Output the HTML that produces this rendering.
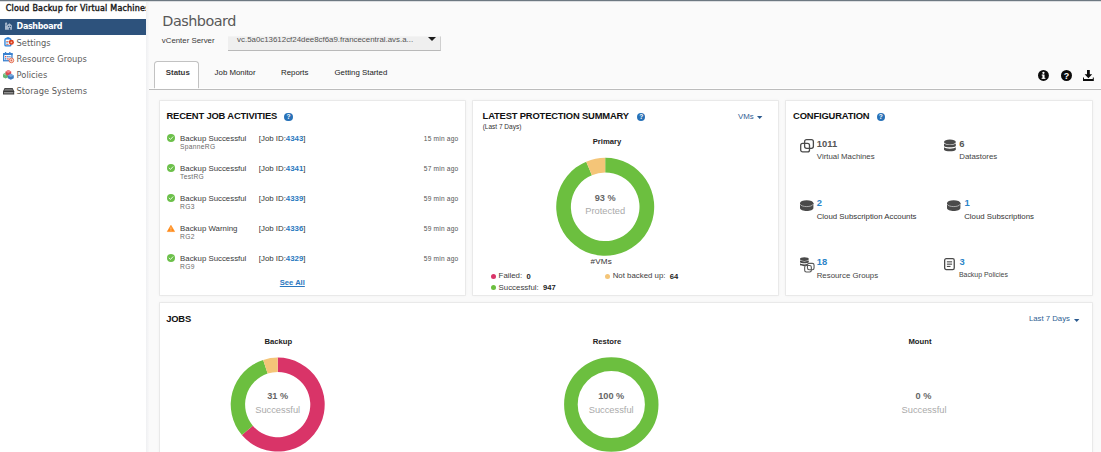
<!DOCTYPE html>
<html lang="en">
<head>
<meta charset="utf-8">
<title>Cloud Backup for Virtual Machines</title>
<style>
*{box-sizing:border-box;margin:0;padding:0}
html,body{width:1101px;height:452px;overflow:hidden;background:#fafafa}
body{position:relative;font-family:"Liberation Sans",Arial,sans-serif;font-size:7.85px;color:#3c3c3c}
.t,.a{position:absolute;white-space:nowrap}
.vd{font-family:"DejaVu Sans","Liberation Sans",sans-serif}
.b{font-weight:bold}
.blue{color:#2b78c0}
.g{color:#666}
#topline{left:0;top:0;width:1101px;height:1px;background:#6d7881;box-shadow:0 0.5px 0 #b9bec3}
#side{left:0;top:1px;width:146px;height:451px;background:#fff}
#topwhite{left:146px;top:1px;width:955px;height:1.2px;background:#fff}
#sidegrad{left:146px;top:2px;width:3px;height:450px;background:linear-gradient(90deg,#eff0f2,#f8f8f9)}
#lower{left:149px;top:89px;width:952px;height:363px;background:#fafafa}
#msel{left:0;top:19px;width:146px;height:16px;background:#2d527c}
#vcsel{left:227.5px;top:36px;width:213px;height:14.8px;background:#efefef;border-bottom:1px solid #b9b9b9;border-right:1px solid #cfcfcf;border-top:1px solid #f3f3f3}
#vcarrow{left:428.3px;top:37px;width:0;height:0;border-left:4.5px solid transparent;border-right:4.5px solid transparent;border-top:4.4px solid #1c1c1c}
#tabline{left:149px;top:89px;width:952px;height:1px;background:#bcbcbc;box-shadow:0 -1px 0 rgba(255,255,255,.8)}
#tab1{left:154px;top:61px;width:45.2px;height:28px;border:1px solid #c2c2c2;border-bottom:none;border-radius:3.5px 3.5px 0 0;background:#fff}
.card{background:#fff;box-shadow:0 0 0 1px rgba(0,0,0,.045),0 0 3px 1.2px rgba(0,0,0,.06)}
.help{width:8.4px;height:8.4px;border-radius:50%;background:#2872b8;color:#fff;font-size:6.6px;font-weight:bold;line-height:8.6px;text-align:center}
.dot{width:5.2px;height:5.2px;border-radius:50%}
svg{position:absolute;overflow:visible}
</style>
</head>
<body>
<div class="a" id="lower"></div>
<div class="a" id="side"></div>
<div class="a" id="sidegrad"></div>
<div class="a" id="topwhite"></div><div class="a" id="topline"></div>
<div class="a" style="left:0;top:2px;width:146px;height:16px;overflow:hidden"><div class="t  vd" style="left:5.8px;top:2.13px;font-size:8px;line-height:10px;color:#1d1d1d;-webkit-text-stroke:0.4px #1d1d1d;letter-spacing:0.2px">Cloud Backup for Virtual Machines</div>
</div>
<div class="a" id="msel"></div>
<div class="t b vd" style="left:16.6px;top:22.23px;font-size:8px;line-height:10px;color:#fff;letter-spacing:-0.35px">Dashboard</div>
<div class="t  vd" style="left:16.6px;top:37.83px;font-size:8.3px;line-height:11px;color:#5c5c5c">Settings</div>
<div class="t  vd" style="left:16.6px;top:54.13px;font-size:8.3px;line-height:11px;color:#5c5c5c">Resource Groups</div>
<div class="t  vd" style="left:16.6px;top:70.43px;font-size:8.3px;line-height:11px;color:#5c5c5c">Policies</div>
<div class="t  vd" style="left:16.6px;top:86.43px;font-size:8.3px;line-height:11px;color:#5c5c5c">Storage Systems</div>
<div class="t  vd" style="left:162.3px;top:11.92px;font-size:14.4px;line-height:19px;color:#585858;letter-spacing:-0.5px">Dashboard</div>
<div class="t" style="left:161.8px;top:36.08px;font-size:7.85px;line-height:10px;color:#3a3a3a">vCenter Server</div>
<div class="a" id="vcsel"></div><div class="a" id="vcarrow"></div>
<div class="t" style="left:237.1px;top:35.17px;font-size:7.88px;line-height:10px;color:#555">vc.5a0c13612cf24dee8cf6a9.francecentral.avs.a...</div>
<div class="a" id="tab1"></div><div class="a" id="tabline"></div>
<div class="t b" style="left:165.8px;top:68.08px;font-size:7.85px;line-height:10px;color:#383838">Status</div>
<div class="t" style="left:214.6px;top:68.08px;font-size:7.85px;line-height:10px;color:#222">Job Monitor</div>
<div class="t" style="left:281px;top:68.08px;font-size:7.85px;line-height:10px;color:#222">Reports</div>
<div class="t" style="left:334.5px;top:68.08px;font-size:7.85px;line-height:10px;color:#222">Getting Started</div>
<div class="a card" style="left:159.5px;top:100.5px;width:305.5px;height:194.5px"></div>
<div class="a card" style="left:472.5px;top:100.5px;width:305.5px;height:194.5px"></div>
<div class="a card" style="left:786px;top:100.5px;width:305.5px;height:194.5px"></div>
<div class="a card" style="left:159.5px;top:303px;width:932px;height:160px"></div>
<div class="t b" style="left:166.5px;top:110.45px;font-size:9.4px;line-height:12px;color:#111;letter-spacing:-0.17px">RECENT JOB ACTIVITIES</div>
<div class="a help" style="left:284.40000000000003px;top:112.5px">?</div>
<div class="t b" style="left:482.6px;top:110.45px;font-size:9.4px;line-height:12px;color:#111;letter-spacing:-0.17px">LATEST PROTECTION SUMMARY</div>
<div class="a help" style="left:637.0px;top:112.7px">?</div>
<div class="t b" style="left:793.1px;top:110.45px;font-size:9.4px;line-height:12px;color:#111;letter-spacing:-0.17px">CONFIGURATION</div>
<div class="a help" style="left:876.6999999999999px;top:112.5px">?</div>
<div class="t b" style="left:166.2px;top:312.55px;font-size:9.4px;line-height:12px;color:#111;letter-spacing:-0.17px">JOBS</div>
<svg style="left:167px;top:133.8px" width="8" height="8" viewBox="0 0 8 8"><circle cx="4" cy="4" r="4" fill="#6cc04a"/><path d="M2.1 4.1 L3.5 5.4 L5.9 2.8" fill="none" stroke="#fff" stroke-width="0.9" stroke-opacity=".92" stroke-linecap="round" stroke-linejoin="round"/></svg>
<div class="t" style="left:180.1px;top:134.18px;font-size:7.85px;line-height:10px;color:#3a3a3a">Backup Successful</div>
<div class="t" style="left:180.1px;top:142.08px;font-size:6.7px;line-height:9px;color:#6a6a6a;letter-spacing:0.28px">SpanneRG</div>
<div class="t" style="left:258.8px;top:134.18px;font-size:7.85px;line-height:10px;color:#333">[Job ID:<span class="b blue">4343</span>]</div>
<div class="t" style="right:642.6px;top:133.72px;font-size:6.6px;line-height:9px;color:#555;letter-spacing:0.2px">15 min ago</div>
<svg style="left:167px;top:163.83px" width="8" height="8" viewBox="0 0 8 8"><circle cx="4" cy="4" r="4" fill="#6cc04a"/><path d="M2.1 4.1 L3.5 5.4 L5.9 2.8" fill="none" stroke="#fff" stroke-width="0.9" stroke-opacity=".92" stroke-linecap="round" stroke-linejoin="round"/></svg>
<div class="t" style="left:180.1px;top:164.21px;font-size:7.85px;line-height:10px;color:#3a3a3a">Backup Successful</div>
<div class="t" style="left:180.1px;top:172.11px;font-size:6.7px;line-height:9px;color:#6a6a6a;letter-spacing:0.28px">TestRG</div>
<div class="t" style="left:258.8px;top:164.21px;font-size:7.85px;line-height:10px;color:#333">[Job ID:<span class="b blue">4341</span>]</div>
<div class="t" style="right:642.6px;top:163.75px;font-size:6.6px;line-height:9px;color:#555;letter-spacing:0.2px">57 min ago</div>
<svg style="left:167px;top:193.86px" width="8" height="8" viewBox="0 0 8 8"><circle cx="4" cy="4" r="4" fill="#6cc04a"/><path d="M2.1 4.1 L3.5 5.4 L5.9 2.8" fill="none" stroke="#fff" stroke-width="0.9" stroke-opacity=".92" stroke-linecap="round" stroke-linejoin="round"/></svg>
<div class="t" style="left:180.1px;top:194.24px;font-size:7.85px;line-height:10px;color:#3a3a3a">Backup Successful</div>
<div class="t" style="left:180.1px;top:202.14px;font-size:6.7px;line-height:9px;color:#6a6a6a;letter-spacing:0.28px">RG3</div>
<div class="t" style="left:258.8px;top:194.24px;font-size:7.85px;line-height:10px;color:#333">[Job ID:<span class="b blue">4339</span>]</div>
<div class="t" style="right:642.6px;top:193.78px;font-size:6.6px;line-height:9px;color:#555;letter-spacing:0.2px">59 min ago</div>
<svg style="left:167.3px;top:225.09px" width="7.9" height="6.9" viewBox="0 0 7.9 6.9"><path d="M3.95 0.3 L7.6 6.6 L0.3 6.6 Z" fill="#ff8a17" stroke="#ff8a17" stroke-width="0.6" stroke-linejoin="round"/><rect x="3.6" y="2.3" width="0.7" height="2.3" fill="#fff" opacity=".75"/><rect x="3.6" y="5.1" width="0.7" height="0.7" fill="#fff" opacity=".75"/></svg>
<div class="t" style="left:180.1px;top:224.27px;font-size:7.85px;line-height:10px;color:#3a3a3a">Backup Warning</div>
<div class="t" style="left:180.1px;top:232.17px;font-size:6.7px;line-height:9px;color:#6a6a6a;letter-spacing:0.28px">RG2</div>
<div class="t" style="left:258.8px;top:224.27px;font-size:7.85px;line-height:10px;color:#333">[Job ID:<span class="b blue">4336</span>]</div>
<div class="t" style="right:642.6px;top:223.81px;font-size:6.6px;line-height:9px;color:#555;letter-spacing:0.2px">59 min ago</div>
<svg style="left:167px;top:253.92000000000002px" width="8" height="8" viewBox="0 0 8 8"><circle cx="4" cy="4" r="4" fill="#6cc04a"/><path d="M2.1 4.1 L3.5 5.4 L5.9 2.8" fill="none" stroke="#fff" stroke-width="0.9" stroke-opacity=".92" stroke-linecap="round" stroke-linejoin="round"/></svg>
<div class="t" style="left:180.1px;top:254.30px;font-size:7.85px;line-height:10px;color:#3a3a3a">Backup Successful</div>
<div class="t" style="left:180.1px;top:262.20px;font-size:6.7px;line-height:9px;color:#6a6a6a;letter-spacing:0.28px">RG9</div>
<div class="t" style="left:258.8px;top:254.30px;font-size:7.85px;line-height:10px;color:#333">[Job ID:<span class="b blue">4329</span>]</div>
<div class="t" style="right:642.6px;top:253.84px;font-size:6.6px;line-height:9px;color:#555;letter-spacing:0.2px">59 min ago</div>
<div class="t b blue" style="left:279.8px;top:277.57px;font-size:7.6px;line-height:10px;text-decoration:underline">See All</div>
<div class="t" style="left:482.7px;top:122.55px;font-size:6.5px;line-height:8px;color:#333">(Last 7 Days)</div>
<div class="t" style="left:738px;top:111.98px;font-size:7.85px;line-height:10px;color:#2f5f94">VMs</div>
<svg style="left:757px;top:116px" width="5.4" height="3" viewBox="0 0 5.4 3"><path d="M0 0 H5.4 L2.7 3 Z" fill="#2a5a8f"/></svg>
<div class="t b" style="left:457px;width:300px;text-align:center;top:137.34px;font-size:7.7px;line-height:10px;color:#222">Primary</div>
<svg style="left:0;top:0" width="1101" height="452" viewBox="0 0 1101 452"><path d="M605.20 157.80 A49 49 0 1 1 586.22 161.63 L591.91 175.18 A34.3 34.3 0 1 0 605.20 172.50 Z" fill="#6cbf3f"/><path d="M586.22 161.63 A49 49 0 0 1 605.20 157.80 L605.20 172.50 A34.3 34.3 0 0 0 591.91 175.18 Z" fill="#f4c578"/></svg>
<div class="t b" style="left:455.20000000000005px;width:300px;text-align:center;top:191.62px;font-size:9.2px;line-height:12px;color:#666">93 %</div>
<div class="t" style="left:455.20000000000005px;width:300px;text-align:center;top:205.18px;font-size:9.3px;line-height:12px;color:#aaa">Protected</div>
<div class="t" style="left:451.20000000000005px;width:300px;text-align:center;top:255.70px;font-size:8.1px;line-height:11px;color:#333;letter-spacing:0.2px">#VMs</div>
<div class="a dot" style="left:491.0px;top:274.0px;background:#d93468"></div>
<div class="t" style="left:498.6px;top:271.48px;font-size:7.85px;line-height:10px;">Failed:</div>
<div class="t b" style="left:526.4px;top:271.57px;font-size:7.6px;line-height:10px;color:#222">0</div>
<div class="a dot" style="left:604.9px;top:274.0px;background:#f4c578"></div>
<div class="t" style="left:612.7px;top:271.48px;font-size:7.85px;line-height:10px;">Not backed up:</div>
<div class="t b" style="left:669.8px;top:271.57px;font-size:7.6px;line-height:10px;color:#222">64</div>
<div class="a dot" style="left:491.0px;top:285.2px;background:#6cbf3f"></div>
<div class="t" style="left:498.6px;top:282.68px;font-size:7.85px;line-height:10px;">Successful:</div>
<div class="t b" style="left:543.1px;top:282.77px;font-size:7.6px;line-height:10px;color:#222">947</div>
<div class="t" style="left:1028.9px;top:314.11px;font-size:7.78px;line-height:10px;color:#2f5f94">Last 7 Days</div>
<svg style="left:1073.8px;top:318.8px" width="5.4" height="3" viewBox="0 0 5.4 3"><path d="M0 0 H5.4 L2.7 3 Z" fill="#2a5a8f"/></svg>
<div class="t b" style="left:128.3px;width:300px;text-align:center;top:337.04px;font-size:7.7px;line-height:10px;color:#222">Backup</div>
<svg style="left:0;top:0" width="1101" height="452" viewBox="0 0 1101 452"><path d="M277.70 357.60 A47 47 0 1 1 241.87 435.01 L252.84 425.69 A32.6 32.6 0 1 0 277.70 372.00 Z" fill="#d93468"/><path d="M241.87 435.01 A47 47 0 0 1 263.18 359.90 L267.63 373.60 A32.6 32.6 0 0 0 252.84 425.69 Z" fill="#6cbf3f"/><path d="M263.18 359.90 A47 47 0 0 1 277.70 357.60 L277.70 372.00 A32.6 32.6 0 0 0 267.63 373.60 Z" fill="#f4c578"/></svg>
<div class="t b" style="left:127.69999999999999px;width:300px;text-align:center;top:390.22px;font-size:9.2px;line-height:12px;color:#666">31 %</div>
<div class="t" style="left:127.69999999999999px;width:300px;text-align:center;top:403.58px;font-size:9.3px;line-height:12px;color:#aaa">Successful</div>
<div class="t b" style="left:457px;width:300px;text-align:center;top:337.04px;font-size:7.7px;line-height:10px;color:#222">Restore</div>
<svg style="left:0;top:0" width="1101" height="452" viewBox="0 0 1101 452"><circle cx="611.3" cy="404.5" r="40.400000000000006" fill="none" stroke="#6cbf3f" stroke-width="13.600000000000001"/></svg>
<div class="t b" style="left:461.20000000000005px;width:300px;text-align:center;top:390.22px;font-size:9.2px;line-height:12px;color:#666">100 %</div>
<div class="t" style="left:461.20000000000005px;width:300px;text-align:center;top:403.58px;font-size:9.3px;line-height:12px;color:#aaa">Successful</div>
<div class="t b" style="left:770px;width:300px;text-align:center;top:337.04px;font-size:7.7px;line-height:10px;color:#222">Mount</div>
<div class="t b" style="left:773.5px;width:300px;text-align:center;top:390.22px;font-size:9.2px;line-height:12px;color:#666">0 %</div>
<div class="t" style="left:774px;width:300px;text-align:center;top:403.58px;font-size:9.3px;line-height:12px;color:#aaa">Successful</div>
<svg style="left:800px;top:139.3px" width="14.2" height="13.6" viewBox="0 0 14.2 13.6"><rect x="4.6" y="0.7" width="8.8" height="8.6" rx="2" fill="none" stroke="#4a4a4a" stroke-width="1.3"/><rect x="0.7" y="4.3" width="8.8" height="8.6" rx="2" fill="#fff" fill-opacity="0" stroke="#4a4a4a" stroke-width="1.3"/></svg>
<div class="t b" style="left:816.8px;top:137.55px;font-size:9.4px;line-height:12px;color:#555">1011</div>
<div class="t" style="left:816.8px;top:151.58px;font-size:7.85px;line-height:10px;color:#444">Virtual Machines</div>
<svg style="left:943.8px;top:139.3px" width="11.8" height="13.6" viewBox="0 0 12 13"><ellipse cx="6" cy="2.6" rx="6" ry="2.6" fill="#4a4a4a"/><path d="M0 4.2 C1.2 6 10.8 6 12 4.2 L12 6.6 C10.8 8.6 1.2 8.6 0 6.6 Z" fill="#4a4a4a"/><path d="M0 8 C1.2 9.9 10.8 9.9 12 8 L12 10.4 C10.8 12.5 1.2 12.5 0 10.4 Z" fill="#4a4a4a"/><path d="M0 11.8 C1.2 13.7 10.8 13.7 12 11.8 L12 12.6 C10.8 15.2 1.2 15.2 0 12.6 Z" fill="#4a4a4a" opacity="0"/></svg>
<div class="t b" style="left:959.3px;top:137.55px;font-size:9.4px;line-height:12px;color:#555">6</div>
<div class="t" style="left:959.3px;top:151.58px;font-size:7.85px;line-height:10px;color:#444">Datastores</div>
<svg style="left:799.6px;top:200px" width="13.4" height="11.3" viewBox="0 0 14 11.6"><path d="M0 3.2 L0 8.2 C0 12.3 14 12.3 14 8.2 L14 3.2 Z" fill="#4a4a4a"/><ellipse cx="7" cy="3.2" rx="7" ry="3.1" fill="#4a4a4a"/><path d="M0.2 4.3 C1.5 7.6 12.5 7.6 13.8 4.3" fill="none" stroke="#d8d8d8" stroke-width="0.7"/></svg>
<div class="t b" style="left:816.7px;top:196.55px;font-size:9.4px;line-height:12px;color:#2b84c8">2</div>
<div class="t" style="left:816.7px;top:212.08px;font-size:7.85px;line-height:10px;color:#333">Cloud Subscription Accounts</div>
<svg style="left:946.8px;top:200px" width="13.4" height="11.3" viewBox="0 0 14 11.6"><path d="M0 3.2 L0 8.2 C0 12.3 14 12.3 14 8.2 L14 3.2 Z" fill="#4a4a4a"/><ellipse cx="7" cy="3.2" rx="7" ry="3.1" fill="#4a4a4a"/><path d="M0.2 4.3 C1.5 7.6 12.5 7.6 13.8 4.3" fill="none" stroke="#d8d8d8" stroke-width="0.7"/></svg>
<div class="t b" style="left:964.4px;top:196.55px;font-size:9.4px;line-height:12px;color:#2b84c8">1</div>
<div class="t" style="left:964.2px;top:212.08px;font-size:7.85px;line-height:10px;color:#333">Cloud Subscriptions</div>
<svg style="left:800px;top:257px" width="14.8" height="15.8" viewBox="0 0 14.8 15.8"><ellipse cx="4.4" cy="2.1" rx="4.4" ry="1.9" fill="#4a4a4a"/><path d="M0 3.3 C1 4.8 7.8 4.8 8.8 3.3 L8.8 5.2 C7.8 6.7 1 6.7 0 5.2 Z" fill="#4a4a4a"/><path d="M0 6.3 C1 7.8 7.8 7.8 8.8 6.3 L8.8 8 C7.8 9.6 1 9.6 0 8 Z" fill="#4a4a4a"/><rect x="7.45" y="6.35" width="6.6" height="6.4" rx="1.7" fill="#fff"/><rect x="4.65" y="8.55" width="6.7" height="6.4" rx="1.7" fill="#fff"/><rect x="7.45" y="6.35" width="6.6" height="6.4" rx="1.7" fill="none" stroke="#5a5a5a" stroke-width="1.1"/><rect x="4.65" y="8.55" width="6.7" height="6.4" rx="1.7" fill="none" stroke="#5a5a5a" stroke-width="1.1"/></svg>
<div class="t b" style="left:816.7px;top:255.65px;font-size:9.4px;line-height:12px;color:#2b84c8">18</div>
<div class="t" style="left:816.7px;top:270.58px;font-size:7.85px;line-height:10px;color:#444">Resource Groups</div>
<svg style="left:944.3px;top:257.6px" width="10.9" height="12.2" viewBox="0 0 10.9 12.2"><rect x="0.65" y="0.65" width="9.6" height="10.9" rx="1.6" fill="none" stroke="#4a4a4a" stroke-width="1.3"/><rect x="2.9" y="3.3" width="5.2" height="1.1" fill="#4a4a4a"/><rect x="2.9" y="5.6" width="5.2" height="1.1" fill="#4a4a4a"/><rect x="2.9" y="7.9" width="3.6" height="1.1" fill="#4a4a4a"/></svg>
<div class="t b" style="left:959.4px;top:255.65px;font-size:9.4px;line-height:12px;color:#2b84c8">3</div>
<div class="t" style="left:958.9px;top:270.10px;font-size:6.95px;line-height:9px;color:#444">Backup Policies</div>
<svg style="left:1038.3px;top:70.4px" width="10.9" height="10.9" viewBox="0 0 10 10"><circle cx="5" cy="5" r="5" fill="#0b0b0b"/><rect x="4.1" y="4.2" width="1.9" height="3.6" fill="#fff"/><rect x="3.4" y="4.2" width="1.6" height="0.9" fill="#fff"/><rect x="3.3" y="7.2" width="3.5" height="0.9" fill="#fff"/><circle cx="5" cy="2.6" r="1.05" fill="#fff"/></svg>
<svg style="left:1061.1px;top:69.9px" width="11" height="11" viewBox="0 0 11 11"><circle cx="5.5" cy="5.5" r="5.5" fill="#0b0b0b"/><text x="5.5" y="8.7" text-anchor="middle" font-family="Liberation Sans,Arial,sans-serif" font-weight="bold" font-size="9" fill="#fff">?</text></svg>
<svg style="left:1083px;top:70px" width="10.8" height="11" viewBox="0 0 10.8 11"><path d="M4 0 H6.8 V4.2 H9.2 L5.4 8.2 L1.6 4.2 H4 Z" fill="#0b0b0b"/><path d="M0 7.6 H1 V9 H9.8 V7.6 H10.8 V11 H0 Z" fill="#0b0b0b"/></svg>
<svg style="left:5.3px;top:21.8px" width="7" height="7.8" viewBox="0 0 7 7.8"><path d="M0 1.6 L1.1 0 L2.2 1.6 L2.2 3.2 L4.4 1.3 L6.9 3.3 L6.9 7.8 L0 7.8 Z" fill="#a9b9ce"/><rect x="0.7" y="2.6" width="0.8" height="1" fill="#2d527c"/><rect x="3.1" y="3.9" width="1" height="1.1" fill="#2d527c"/><rect x="4.9" y="3.9" width="1" height="1.1" fill="#2d527c"/><rect x="3.9" y="5.9" width="1.3" height="1.9" fill="#2d527c"/></svg>
<svg style="left:3.8px;top:37.2px" width="10" height="9.6" viewBox="0 0 10 9.6"><rect x="0.95" y="1.75" width="5.9" height="7.2" rx="1" fill="#fff" stroke="#2a7fd6" stroke-width="1.3"/><rect x="2.4" y="0.2" width="3.2" height="1.9" rx="0.6" fill="#2a7fd6"/><rect x="2.2" y="4" width="2.4" height="0.8" fill="#d0604a"/><rect x="2.2" y="5.5" width="2" height="0.8" fill="#2a7fd6"/><rect x="2.2" y="7" width="2.4" height="0.8" fill="#d0604a"/><circle cx="7.4" cy="5.3" r="2.5" fill="#dc3d1c"/><circle cx="7.4" cy="5.3" r="0.9" fill="#f4b9a4"/></svg>
<svg style="left:3.1px;top:52.3px" width="11" height="11.2" viewBox="0 0 11 11.2"><rect x="0.65" y="1.75" width="8.3" height="7" fill="#fff" stroke="#3b82d0" stroke-width="1.3"/><rect x="0" y="1.1" width="9.6" height="1.9" fill="#3b82d0"/><rect x="1.9" y="0" width="1.3" height="2.2" fill="#3b82d0"/><rect x="6.2" y="0" width="1.3" height="2.2" fill="#3b82d0"/><rect x="2" y="4" width="1.4" height="1.4" fill="#d9534f"/><rect x="4.2" y="4" width="1.4" height="1.4" fill="#3b82d0"/><rect x="6.3" y="4" width="1.2" height="1.4" fill="#3b82d0"/><rect x="2" y="6.2" width="1.4" height="1.4" fill="#3b82d0"/><rect x="4.2" y="6.2" width="1.4" height="1.4" fill="#d9534f"/><circle cx="8.4" cy="8.4" r="2.35" fill="#fbe3da" stroke="#e2664b" stroke-width="0.9"/><rect x="7.6" y="7.5" width="1.6" height="1.8" fill="#e2664b"/></svg>
<svg style="left:3.2px;top:69.8px" width="10.8" height="9.8" viewBox="0 0 10.8 9.8"><path d="M0 4.2 L2.6 2.6 L5.2 4.2 L5.2 7.2 L2.6 8.6 L0 7.2 Z" fill="#63b574"/><path d="M0 4.2 L2.6 2.6 L5.2 4.2 L2.6 5.6 Z" fill="#93d19f"/><path d="M2.6 1.6 L5.4 0 L8.2 1.6 L8.2 4.4 L5.4 5.8 L2.6 4.4 Z" fill="#de4a50"/><path d="M2.6 1.6 L5.4 0 L8.2 1.6 L5.4 3.1 Z" fill="#ee8689"/><path d="M4.8 5.4 L7.8 3.8 L10.8 5.4 L10.8 8.3 L7.8 9.8 L4.8 8.3 Z" fill="#3f7cc0"/><path d="M4.8 5.4 L7.8 3.8 L10.8 5.4 L7.8 6.9 Z" fill="#7aa9dc"/></svg>
<svg style="left:3.2px;top:87.7px" width="11.2" height="6.6" viewBox="0 0 11.2 6.6"><path d="M1.6 0 H9.6 L11.2 3.2 V6.6 H0 V3.2 Z" fill="#3a3a3a"/><rect x="0.9" y="4.1" width="9.4" height="1.3" fill="#9a9a9a"/><path d="M2.1 0.7 H9.1 L10.1 2.7 H1.1 Z" fill="#757575"/></svg>
</body>
</html>
